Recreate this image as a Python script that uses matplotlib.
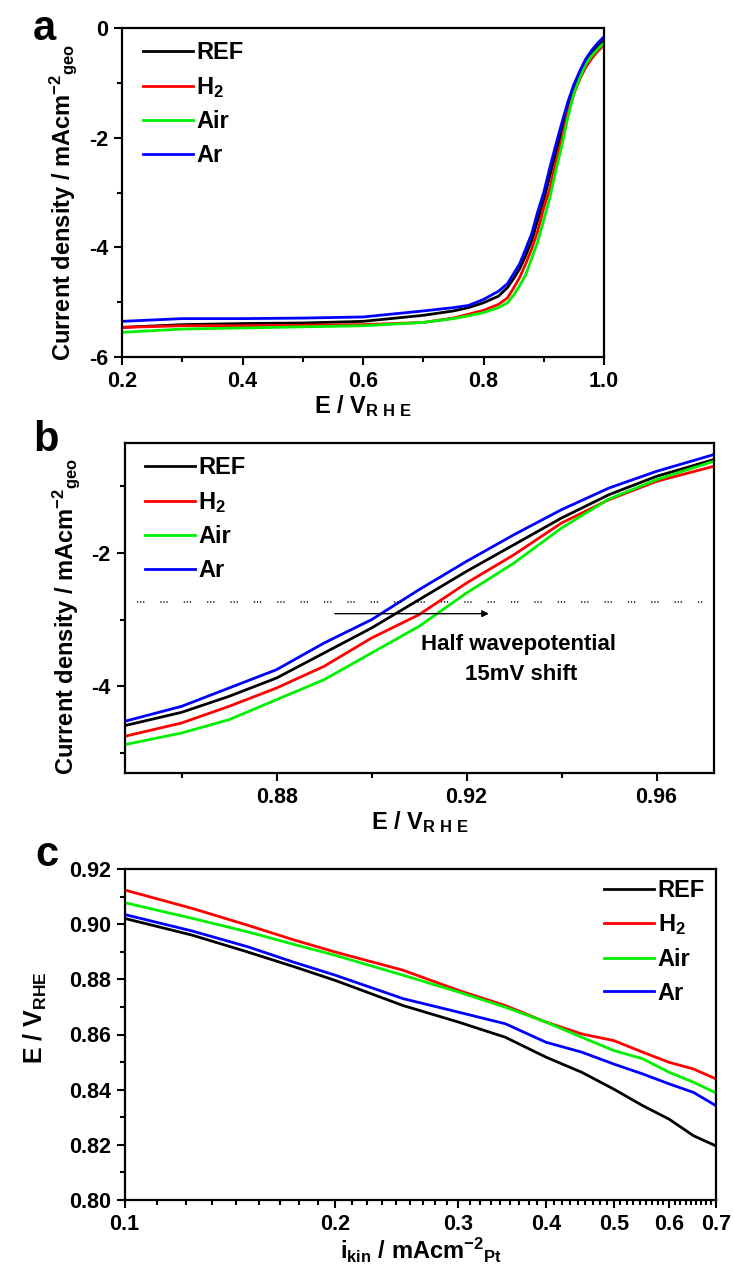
import numpy as np
import matplotlib
matplotlib.use("Agg")
import matplotlib.pyplot as plt
from matplotlib.ticker import MultipleLocator, FixedLocator, FixedFormatter, NullFormatter, FormatStrFormatter

plt.rcParams['font.family'] = ['Liberation Sans', 'DejaVu Sans']
plt.rcParams['font.weight'] = 'bold'
plt.rcParams['axes.labelweight'] = 'bold'
plt.rcParams['axes.unicode_minus'] = False
plt.rcParams['mathtext.fontset'] = 'custom'
plt.rcParams['mathtext.rm'] = 'Liberation Sans:bold'
plt.rcParams['mathtext.it'] = 'Liberation Sans:bold'
plt.rcParams['mathtext.bf'] = 'Liberation Sans:bold'
plt.rcParams['mathtext.sf'] = 'Liberation Sans'
plt.rcParams['mathtext.default'] = 'rm'

# ---- データ ----
names = ['REF', r'H$_2$', 'Air', 'Ar']
colors = ['#000000', '#ff0000', '#00f000', '#0000ff']

# (a) ORR polarisation, E / V_RHE vs j / mA cm-2
E_a = [0.2, 0.3, 0.4, 0.5, 0.6, 0.7, 0.75, 0.775, 0.8, 0.825, 0.84, 0.85, 0.86, 0.87, 0.88,
       0.89, 0.90, 0.91, 0.92, 0.93, 0.94, 0.95, 0.96, 0.97, 0.98, 0.99, 1.0]
j_a_ref = [-5.46, -5.41, -5.39, -5.38, -5.35, -5.24, -5.16, -5.10, -5.01, -4.89, -4.73, -4.57, -4.39,
           -4.15, -3.88, -3.50, -3.13, -2.70, -2.28, -1.88, -1.48, -1.13, -0.85, -0.62, -0.45, -0.32, -0.22]
j_a_h2 = [-5.46, -5.43, -5.43, -5.42, -5.41, -5.37, -5.29, -5.22, -5.15, -5.04, -4.92, -4.74, -4.55,
          -4.30, -4.03, -3.70, -3.28, -2.93, -2.45, -2.03, -1.55, -1.20, -0.93, -0.71, -0.55, -0.42, -0.31]
j_a_air = [-5.55, -5.49, -5.47, -5.45, -5.43, -5.37, -5.30, -5.25, -5.19, -5.10, -5.01, -4.87, -4.70,
           -4.50, -4.20, -3.90, -3.50, -3.10, -2.60, -2.15, -1.63, -1.19, -0.90, -0.65, -0.50, -0.38, -0.27]
j_a_ar = [-5.35, -5.30, -5.30, -5.29, -5.27, -5.16, -5.10, -5.06, -4.95, -4.80, -4.66, -4.48, -4.30,
          -4.03, -3.75, -3.35, -3.00, -2.55, -2.13, -1.73, -1.35, -1.03, -0.78, -0.56, -0.40, -0.27, -0.16]

# (b) 拡大図
E_b = [0.848, 0.86, 0.87, 0.88, 0.89, 0.90, 0.91, 0.92, 0.93, 0.94, 0.95, 0.96, 0.972]
j_b_ref = [-4.59, -4.39, -4.15, -3.875, -3.50, -3.125, -2.70, -2.275, -1.875, -1.475, -1.125, -0.85, -0.60]
j_b_h2 = [-4.75, -4.55, -4.30, -4.025, -3.70, -3.275, -2.925, -2.45, -2.025, -1.55, -1.20, -0.925, -0.70]
j_b_air = [-4.875, -4.70, -4.50, -4.20, -3.90, -3.50, -3.10, -2.60, -2.15, -1.625, -1.19, -0.90, -0.625]
j_b_ar = [-4.525, -4.30, -4.025, -3.75, -3.35, -3.00, -2.55, -2.125, -1.725, -1.35, -1.025, -0.775, -0.525]
half_wave_j = -2.735

# (c) Tafel plot, i_kin vs E
i_c = [0.1, 0.125, 0.15, 0.175, 0.2, 0.25, 0.3, 0.35, 0.4, 0.45, 0.5, 0.55, 0.6, 0.65, 0.7]
E_c_ref = [0.9021, 0.8960, 0.8899, 0.8845, 0.8796, 0.8705, 0.8645, 0.8590, 0.8518, 0.8463,
           0.8402, 0.8342, 0.8293, 0.8233, 0.8196]
E_c_h2 = [0.9124, 0.9057, 0.8996, 0.8942, 0.8899, 0.8833, 0.8760, 0.8705, 0.8645, 0.8602,
          0.8578, 0.8536, 0.8499, 0.8475, 0.8439]
E_c_air = [0.9078, 0.9021, 0.8972, 0.8926, 0.8887, 0.8815, 0.8754, 0.8699, 0.8645, 0.8590,
           0.8542, 0.8512, 0.8463, 0.8427, 0.8388]
E_c_ar = [0.9035, 0.8975, 0.8918, 0.8861, 0.8815, 0.8730, 0.8681, 0.8639, 0.8572, 0.8536,
          0.8493, 0.8457, 0.8421, 0.8390, 0.8342]

W, H = 733, 1268
fig = plt.figure(figsize=(W / 100, H / 100), dpi=100)


def box(l, r, t, b):
    # ピクセル位置から axes を作る
    return fig.add_axes([l / W, 1 - b / H, (r - l) / W, (b - t) / H])


def style(ax):
    for s in ax.spines.values():
        s.set_linewidth(1.6)
    ax.tick_params(which='both', direction='out', top=False, right=False, width=1.5,
                   labelsize=15.5, pad=4)
    ax.tick_params(which='major', length=6)
    ax.tick_params(which='minor', length=3.5)


def legend(ax, loc, anchor):
    ax.legend(loc=loc, bbox_to_anchor=anchor, frameon=False, fontsize=17, borderpad=0,
              borderaxespad=0, handlelength=2.1, handletextpad=0.15, labelspacing=0.45)


ylab_ab = r'Current density / mAcm$^{-2}$$_{\mathrm{geo}}$'
xlab_ab = r'E / V$_{\mathsf{R\ H\ E}}$'

# ---- (a) ----
ax1 = box(122, 604, 28, 357)
for y, c, n in zip([j_a_ref, j_a_h2, j_a_air, j_a_ar], colors, names):
    ax1.plot(E_a, y, color=c, lw=2.0, label=n)
ax1.set_xlim(0.2, 1.0)
ax1.set_ylim(-6, 0)
ax1.xaxis.set_major_locator(MultipleLocator(0.2))
ax1.xaxis.set_minor_locator(MultipleLocator(0.1))
ax1.yaxis.set_major_locator(MultipleLocator(2))
ax1.yaxis.set_minor_locator(MultipleLocator(1))
ax1.xaxis.set_major_formatter(FormatStrFormatter('%.1f'))
style(ax1)
ax1.set_xlabel(xlab_ab, fontsize=17, labelpad=1)
ax1.set_ylabel(ylab_ab, fontsize=17, labelpad=7, y=0.47)
legend(ax1, 'upper left', (0.044, 0.96))

# ---- (b) ----
ax2 = box(124.6, 714, 443, 773)
for y, c, n in zip([j_b_ref, j_b_h2, j_b_air, j_b_ar], colors, names):
    ax2.plot(E_b, y, color=c, lw=2.0, label=n)
ax2.set_xlim(0.848, 0.9721)
ax2.set_ylim(-5.3, -0.35)
ax2.xaxis.set_major_locator(FixedLocator([0.88, 0.92, 0.96]))
ax2.xaxis.set_minor_locator(FixedLocator([0.86, 0.90, 0.94]))
ax2.xaxis.set_major_formatter(FixedFormatter(['0.88', '0.92', '0.96']))
ax2.yaxis.set_major_locator(MultipleLocator(2))
ax2.yaxis.set_minor_locator(MultipleLocator(1))
style(ax2)
ax2.set_xlabel(xlab_ab, fontsize=17, labelpad=1)
ax2.set_ylabel(ylab_ab, fontsize=17, labelpad=7, y=0.475)
legend(ax2, 'upper left', (0.035, 0.96))

# 半波電位の点線と矢印
ax2.plot([0.8507, 0.9697], [half_wave_j, half_wave_j], color='k', lw=1.1,
         linestyle=(0, (0.8, 1.2, 0.8, 1.2, 0.8, 10.5)))
ax2.annotate('', xy=(0.9253, -2.91), xytext=(0.8917, -2.91),
             arrowprops=dict(arrowstyle='-|>', color='k', lw=1.0, mutation_scale=10))
ax2.text(0.931, -3.375, 'Half wavepotential', ha='center', va='center', fontsize=16)
ax2.text(0.9315, -3.825, '15mV shift', ha='center', va='center', fontsize=16)

# ---- (c) ----
ax3 = box(124.6, 716, 869, 1200)
for y, c, n in zip([E_c_ref, E_c_h2, E_c_air, E_c_ar], colors, names):
    ax3.plot(i_c, y, color=c, lw=2.0, label=n)
ax3.set_xscale('log')
ax3.set_xlim(0.1, 0.7)
ax3.set_ylim(0.80, 0.92)
major_x = [0.1, 0.2, 0.3, 0.4, 0.5, 0.6, 0.7]
minor_x = [a + (b - a) * k / 9 for a, b in zip(major_x[:-1], major_x[1:]) for k in range(1, 9)]
ax3.xaxis.set_major_locator(FixedLocator(major_x))
ax3.xaxis.set_major_formatter(FixedFormatter([f'{v:.1f}' for v in major_x]))
ax3.xaxis.set_minor_locator(FixedLocator(minor_x))
ax3.xaxis.set_minor_formatter(NullFormatter())
ax3.yaxis.set_major_locator(MultipleLocator(0.02))
ax3.yaxis.set_minor_locator(MultipleLocator(0.01))
ax3.yaxis.set_major_formatter(FormatStrFormatter('%.2f'))
style(ax3)
ax3.set_xlabel(r'i$_{\mathsf{kin}}$ / mAcm$^{\mathsf{-2}}$$_{\mathsf{Pt}}$', fontsize=17, labelpad=1)
ax3.set_ylabel(r'E / V$_{\mathrm{RHE}}$', fontsize=18, labelpad=14, y=0.55)
legend(ax3, 'upper right', (0.981, 0.97))

# パネル記号
for lab, px, py in zip(['a', 'b', 'c'], [33, 33, 35], [40, 451, 866]):
    fig.text(px / W, 1 - py / H, lab, fontsize=30, weight='bold', ha='left', va='baseline')

fig.savefig('out.png', dpi=100)
